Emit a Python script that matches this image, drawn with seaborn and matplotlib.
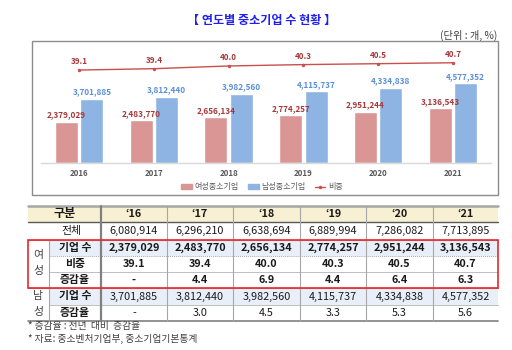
import matplotlib
matplotlib.use('Agg')
import matplotlib.pyplot as plt
import seaborn as sns
import pandas as pd
import numpy as np
from matplotlib.patches import Rectangle, Patch
from matplotlib.lines import Line2D

# ---------------- data ----------------
years = ['2016', '2017', '2018', '2019', '2020', '2021']
year_short = ['‘16', '‘17', '‘18', '‘19', '‘20', '‘21']
female = [2379029, 2483770, 2656134, 2774257, 2951244, 3136543]
male = [3701885, 3812440, 3982560, 4115737, 4334838, 4577352]
ratio = [39.1, 39.4, 40.0, 40.3, 40.5, 40.7]
total = [6080914, 6296210, 6638694, 6889994, 7286082, 7713895]
female_growth = ['-', '4.4', '6.9', '4.4', '6.4', '6.3']
male_growth = ['-', '3.0', '4.5', '3.3', '5.3', '5.6']
series = ['여성중소기업', '남성중소기업']
line_name = '비중'
title = '【 연도별 중소기업 수 현황 】'
unit = '(단위 : 개, %)'
footnotes = ['* 증감율 : 전년  대비  증감율', '* 자료: 중소벤처기업부, 중소기업기본통계']

# ---------------- style ----------------
sns.set_theme(style='white')
plt.rcParams['font.family'] = ['Noto Sans CJK KR', 'DejaVu Sans']

c_f, c_m = '#DA9694', '#8DB4E2'
c_f_txt, c_m_txt = '#A5393A', '#5A8FD8'
c_line = '#C9504D'
W, H = 512, 350

fig = plt.figure(figsize=(W / 100, H / 100), dpi=100)
fig.patch.set_facecolor('white')

ov = fig.add_axes([0, 0, 1, 1])
ov.set_xlim(0, W)
ov.set_ylim(H, 0)
ov.axis('off')


def fpos(x0, y0, x1, y1):
    return [x0 / W, 1 - y1 / H, (x1 - x0) / W, (y1 - y0) / H]


# title & unit
ov.text(262, 20, title, ha='center', va='center', fontsize=8.7,
        fontweight='bold', color='#1F1FF0')
ov.text(497, 35, unit, ha='right', va='center', fontsize=7.4, color='#404040')

# chart box
ov.add_patch(Rectangle((32, 41), 466, 154, fill=False, ec='#8C8C8C', lw=1))

# ---------------- bars ----------------
ax = fig.add_axes(fpos(41, 45, 491, 163))
ax.set_facecolor('none')
df = pd.DataFrame({
    'year': years * 2,
    'value': female + male,
    'series': [series[0]] * len(years) + [series[1]] * len(years),
})
sns.barplot(data=df, x='year', y='value', hue='series', order=years,
            hue_order=series, palette=[c_f, c_m], width=0.68, gap=0.1,
            saturation=1, legend=False, ax=ax)
ax.set_ylim(0, 6.78e6)
ax.set_xlim(-0.51, 5.51)
for cont, vals, col in zip(ax.containers, [female, male], [c_f_txt, c_m_txt]):
    ax.bar_label(cont, labels=[f'{v:,}' for v in vals], padding=1.5,
                 fontsize=5.9, fontweight='bold', color=col)
for s in ['top', 'left', 'right']:
    ax.spines[s].set_visible(False)
ax.spines['bottom'].set_color('#D9D9D9')
ax.spines['bottom'].set_linewidth(1)
ax.set_yticks([])
ax.set_xlabel('')
ax.set_ylabel('')
ax.tick_params(axis='x', length=0, pad=4, labelsize=5.7, labelcolor='#595959')
for t in ax.get_xticklabels():
    t.set_fontweight('bold')

# ---------------- line ----------------
ax2 = ax.twinx()
xs = np.arange(len(years))
sns.lineplot(x=xs, y=ratio, ax=ax2, color=c_line, linewidth=1.0,
             marker='o', markersize=2.5, markeredgewidth=0)
ax2.set_ylim(18.7, 44.6)
ax2.set_xlim(-0.51, 5.51)
for s in ax2.spines.values():
    s.set_visible(False)
ax2.set_yticks([])
ax2.set_ylabel('')
for x, r in zip(xs, ratio):
    ax2.annotate(f'{r:.1f}', (x, r), xytext=(0, 4), textcoords='offset pixels',
                 ha='center', va='bottom', fontsize=5.8, fontweight='bold',
                 color=c_f_txt)

handles = [Patch(color=c_f), Patch(color=c_m),
           Line2D([], [], color=c_line, lw=1, marker='o', markersize=2.5,
                  markeredgewidth=0)]
fig.legend(handles, series + [line_name], loc='center',
           bbox_to_anchor=(262 / W, 1 - 187 / H), ncol=3, frameon=False,
           fontsize=5.8, handlelength=1.3, handleheight=0.6,
           handletextpad=0.3, columnspacing=1.2, labelcolor='#595959')

# ---------------- table ----------------
xe = [28, 49, 101, 167, 233, 300, 366, 433, 498]
ye = [206, 222, 240, 256, 272, 288, 305, 321]
ccent = [(xe[i] + xe[i + 1]) / 2 for i in range(2, 8)]
rcent = [(ye[i] + ye[i + 1]) / 2 for i in range(7)]

ov.add_patch(Rectangle((xe[0], ye[0]), xe[-1] - xe[0], ye[1] - ye[0],
                       fc='#F8F0D2', ec='none'))
for r in (2, 5):
    ov.add_patch(Rectangle((xe[1], ye[r]), xe[-1] - xe[1], ye[r + 1] - ye[r],
                           fc='#E9EFF8', ec='none'))

# horizontal lines
ov.plot([xe[0], xe[-1]], [ye[0], ye[0]], color='#A6A6A6', lw=1.8)
ov.plot([xe[0], xe[-1]], [ye[1], ye[1]], color='#595959', lw=1.0)
ov.plot([xe[0], xe[-1]], [ye[2], ye[2]], color='#A6A6A6', lw=0.8)
ov.plot([xe[1], xe[-1]], [ye[3], ye[3]], color='#A6A6A6', lw=0.7, ls=(0, (1, 1)))
ov.plot([xe[1], xe[-1]], [ye[4], ye[4]], color='#BFBFBF', lw=0.7)
ov.plot([xe[0], xe[-1]], [ye[5], ye[5]], color='#A6A6A6', lw=0.8)
ov.plot([xe[1], xe[-1]], [ye[6], ye[6]], color='#BFBFBF', lw=0.7)
ov.plot([xe[0], xe[-1]], [ye[7], ye[7]], color='#808080', lw=1.2)
# vertical lines
ov.plot([xe[1], xe[1]], [ye[2], ye[7]], color='#A6A6A6', lw=0.8)
ov.plot([xe[2], xe[2]], [ye[0], ye[7]], color='#808080', lw=1.6)
for x in xe[3:8]:
    ov.plot([x, x], [ye[0], ye[7]], color='#A6A6A6', lw=0.8)
# red box
ov.add_patch(Rectangle((xe[0], ye[2]), xe[-1] - xe[0], ye[5] - ye[2],
                       fill=False, ec='#E8262C', lw=1.2, zorder=5))

txt = '#1A1A1A'
fs = 7.8
ov.text((xe[0] + xe[2]) / 2, rcent[0], '구분', ha='center', va='center',
        fontsize=8.7, fontweight='bold', color=txt)
for cx, lab in zip(ccent, year_short):
    ov.text(cx, rcent[0], lab, ha='center', va='center', fontsize=fs,
            fontweight='bold', color=txt)

ov.text(71, rcent[1], '전체', ha='center', va='center', fontsize=fs, color=txt)
for cx, v in zip(ccent, total):
    ov.text(cx, rcent[1], f'{v:,}', ha='center', va='center', fontsize=fs,
            color=txt)

lab_x = (xe[1] + xe[2]) / 2
side_x = (xe[0] + xe[1]) / 2
ov.text(side_x, 255, '여', ha='center', va='center', fontsize=fs, color='#404040')
ov.text(side_x, 271, '성', ha='center', va='center', fontsize=fs, color='#404040')
ov.text(side_x, 296, '남', ha='center', va='center', fontsize=fs, color='#404040')
ov.text(side_x, 312, '성', ha='center', va='center', fontsize=fs, color='#404040')

rows = [
    (2, '기업 수', [f'{v:,}' for v in female], 'bold'),
    (3, '비중', [f'{v:.1f}' for v in ratio], 'bold'),
    (4, '증감율', female_growth, 'bold'),
    (5, '기업 수', [f'{v:,}' for v in male], 'normal'),
    (6, '증감율', male_growth, 'normal'),
]
for r, lab, vals, wt in rows:
    ov.text(lab_x, rcent[r], lab, ha='center', va='center', fontsize=fs,
            fontweight='bold', color=txt)
    for cx, v in zip(ccent, vals):
        ov.text(cx, rcent[r], v, ha='center', va='center', fontsize=fs,
                fontweight=wt, color=txt)

for i, fn in enumerate(footnotes):
    ov.text(28, 326 + i * 12.5, fn, ha='left', va='center', fontsize=7.0,
            color='#404040')

fig.savefig('out.png', dpi=100, facecolor='white')
